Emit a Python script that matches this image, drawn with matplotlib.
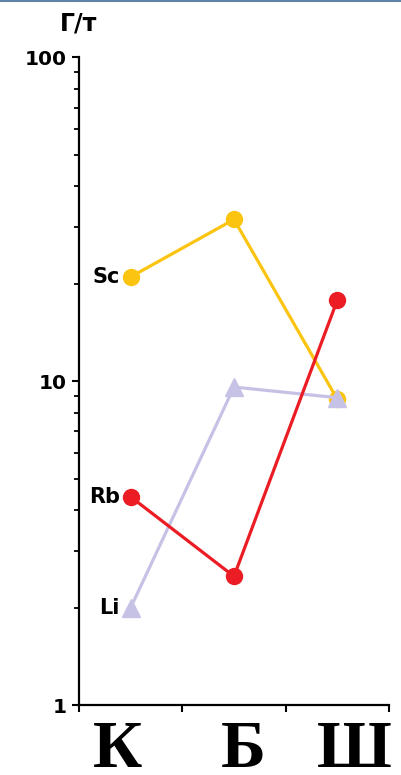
import numpy as np
import matplotlib.pyplot as plt
from matplotlib.lines import Line2D

# concentrations, g/t, for three rock groups
groups = ['К', 'Б', 'Ш']
sc = [21.0, 31.6, 8.8]
rb = [4.4, 2.5, 17.8]
li = [2.0, 9.6, 8.9]

# series drawn in this order so Rb sits on top
series = [
    ('Sc', sc, '#FBC410', 'o'),
    ('Li', li, '#C6C2E6', '^'),
    ('Rb', rb, '#EC1C24', 'o'),
]

# horizontal nudges of the big group letters (in category units)
label_shift = [-0.13, 0.09, 0.16]

fig = plt.figure(figsize=(4.01, 7.75), dpi=100)
ax = fig.add_axes([0.197, 0.090, 0.773, 0.836])

x = np.arange(len(groups)) + 0.5
for name, vals, color, marker in series:
    ms = 13 if marker == '^' else 11.5
    ax.plot(x, vals, color=color, lw=2.3, marker=marker, ms=ms, mec=color, mfc=color)
    ax.annotate(name, (x[0], vals[0]), xytext=(-11, 0), textcoords='offset pixels',
                ha='right', va='center', fontsize=15, fontweight='bold',
                family='DejaVu Sans')

ax.set_yscale('log')
ax.set_ylim(1, 100)
ax.set_xlim(0, len(groups))
ax.set_xticks(np.arange(len(groups) + 1))
ax.set_xticklabels([])
ax.set_yticks([1, 10, 100])
ax.set_yticklabels(['1', '10', '100'], fontsize=14.5, fontweight='bold',
                   family='DejaVu Sans')

for side in ('top', 'right'):
    ax.spines[side].set_visible(False)
for side in ('left', 'bottom'):
    ax.spines[side].set_linewidth(1.6)
ax.tick_params(axis='both', which='major', direction='out', length=5, width=1.5, pad=4)
ax.tick_params(axis='y', which='minor', direction='out', length=3.5, width=1.3)
ax.yaxis.set_minor_formatter(plt.NullFormatter())

for i, g in enumerate(groups):
    ax.text(x[i] + label_shift[i], -0.022, g, transform=ax.get_xaxis_transform(),
            ha='center', va='top', fontsize=49, fontweight='bold',
            family='Liberation Serif')

fig.text(0.197, 0.970, 'Г/т', ha='center', va='center', fontsize=17,
         fontweight='bold', family='DejaVu Sans')

# thin frame strip along the top edge
fig.add_artist(Line2D([0, 1], [0.999, 0.999], transform=fig.transFigure,
                      color='#5D83A6', lw=1.5))

fig.savefig('out.png', dpi=100, facecolor='white')
